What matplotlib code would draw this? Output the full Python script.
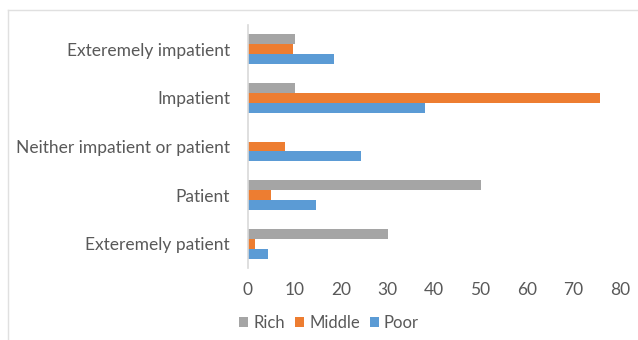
import numpy as np
import matplotlib.pyplot as plt
from matplotlib.lines import Line2D

categories = ['Exteremely patient', 'Patient', 'Neither impatient or patient',
              'Impatient', 'Exteremely impatient']
poor = [4.2, 14.6, 24.4, 38.1, 18.6]
middle = [1.6, 4.9, 8.0, 75.7, 9.6]
rich = [30.0, 50.0, 0.0, 10.0, 10.0]
xticks = [0, 10, 20, 30, 40, 50, 60, 70, 80]

plt.rcParams['font.family'] = ['Lato', 'DejaVu Sans']
text_color = '#595959'
fs = 12.5

fig = plt.figure(figsize=(6.38, 3.4), dpi=100)
ax = fig.add_axes([248 / 638, 1 - 268 / 340, 372 / 638, 243 / 340])

y = np.arange(len(categories))
h = 0.205
ax.barh(y - h, poor, height=h, color='#5B9BD5', label='Poor')
ax.barh(y, middle, height=h, color='#ED7D31', label='Middle')
ax.barh(y + h, rich, height=h, color='#A5A5A5', label='Rich')

ax.set_xlim(0, 80)
ax.set_ylim(-0.5, len(categories) - 0.5)
ax.set_xticks(xticks)
ax.set_xticklabels([str(t) for t in xticks])
ax.set_yticks(y)
ax.set_yticklabels(categories)
ax.tick_params(axis='both', length=0, labelsize=fs, colors=text_color)
ax.tick_params(axis='y', pad=13)
ax.tick_params(axis='x', pad=10)

for s in ['top', 'right', 'bottom']:
    ax.spines[s].set_visible(False)
ax.spines['left'].set_color('#D9D9D9')
ax.spines['left'].set_linewidth(1.2)

handles, labels = ax.get_legend_handles_labels()
leg = fig.legend(handles[::-1], labels[::-1], loc='center', ncol=3,
                 bbox_to_anchor=(329 / 638, 1 - 323 / 340), frameon=False,
                 fontsize=12, handlelength=0.55, handleheight=0.55,
                 handletextpad=0.3, columnspacing=0.6)
for t in leg.get_texts():
    t.set_color(text_color)

# chart area border
fig.add_artist(Line2D([8 / 638, 1], [1 - 10 / 340] * 2, color='#E0E0E0', lw=1))
fig.add_artist(Line2D([8 / 638] * 2, [0, 1 - 10 / 340], color='#E0E0E0', lw=1))

fig.savefig('out.png', dpi=100)
